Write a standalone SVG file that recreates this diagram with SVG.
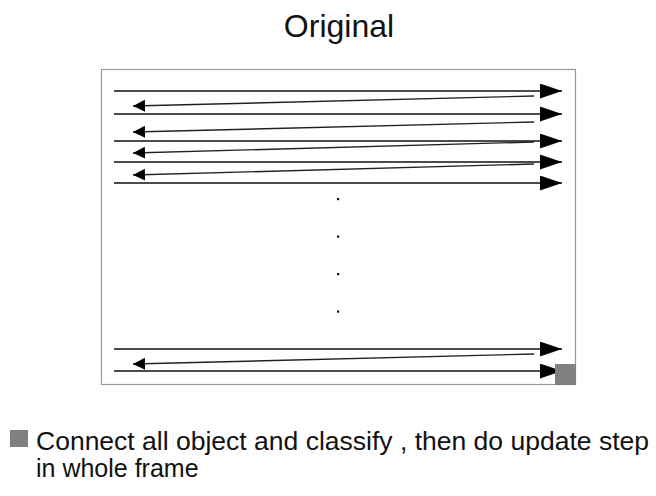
<svg xmlns="http://www.w3.org/2000/svg" width="656" height="496" viewBox="0 0 656 496">
  <style>
    .title { font-family: "Liberation Sans", Arial, sans-serif; font-size: 32px; fill: #111; }
    .caption { font-family: "Liberation Sans", Arial, sans-serif; font-size: 25px; fill: #111; }
    .frame { fill: #fff; stroke: #9a9a9a; stroke-width: 1.2; }
    .fwd { stroke: #111; stroke-width: 1.6; fill: none; marker-end: url(#headR); }
    .back { stroke: #222; stroke-width: 1.4; fill: none; marker-end: url(#headL); }
    .dot { fill: #111; }
    .mark { fill: #808080; }
  </style>
  <defs>
    <marker id="headR" markerUnits="userSpaceOnUse" markerWidth="24" markerHeight="17" refX="22" refY="7.5" orient="auto">
      <path d="M0,0 L22,7.5 L0,15 Z" fill="#000"/>
    </marker>
    <marker id="headL" markerUnits="userSpaceOnUse" markerWidth="14" markerHeight="14" refX="12" refY="6" orient="auto">
      <path d="M0,0 L12,6 L0,12 Z" fill="#000"/>
    </marker>
  </defs>

  <rect width="656" height="496" fill="#fff"/>

  <g id="title">
    <text class="title" x="339" y="37" text-anchor="middle">Original</text>
  </g>

  <g id="frame">
    <rect class="frame" x="101.5" y="69.5" width="474" height="315"/>
  </g>

  <g id="connectors">
    <!-- scan rows, left to right -->
    <line class="fwd" x1="114" y1="91" x2="562" y2="91"/>
    <line class="fwd" x1="114" y1="114" x2="562" y2="114"/>
    <line class="fwd" x1="114" y1="141" x2="562" y2="141"/>
    <line class="fwd" x1="114" y1="162" x2="562" y2="162"/>
    <line class="fwd" x1="114" y1="183" x2="562" y2="183"/>
    <line class="fwd" x1="114" y1="349" x2="562" y2="349"/>
    <line class="fwd" x1="114" y1="371" x2="562" y2="371"/>
    <!-- returns to the start of the next row -->
    <line class="back" x1="534" y1="96" x2="133" y2="106"/>
    <line class="back" x1="534" y1="122" x2="133" y2="132"/>
    <line class="back" x1="534" y1="142" x2="133" y2="153"/>
    <line class="back" x1="534" y1="164" x2="133" y2="175"/>
    <line class="back" x1="534" y1="354" x2="133" y2="364"/>
  </g>

  <g id="ellipsis">
    <rect class="dot" x="337" y="198" width="2.2" height="2.2"/>
    <rect class="dot" x="337" y="235.5" width="2.2" height="2.2"/>
    <rect class="dot" x="337" y="273" width="2.2" height="2.2"/>
    <rect class="dot" x="337" y="310.5" width="2.2" height="2.2"/>
  </g>

  <g id="update-marker">
    <rect class="mark" x="555" y="364" width="21" height="21"/>
  </g>

  <g id="legend">
    <rect class="mark" x="10" y="430" width="18" height="17"/>
    <text class="caption" x="36" y="450" textLength="613" lengthAdjust="spacingAndGlyphs">Connect all object and classify , then do update step</text>
    <text class="caption" x="36" y="477">in whole frame</text>
  </g>
</svg>
